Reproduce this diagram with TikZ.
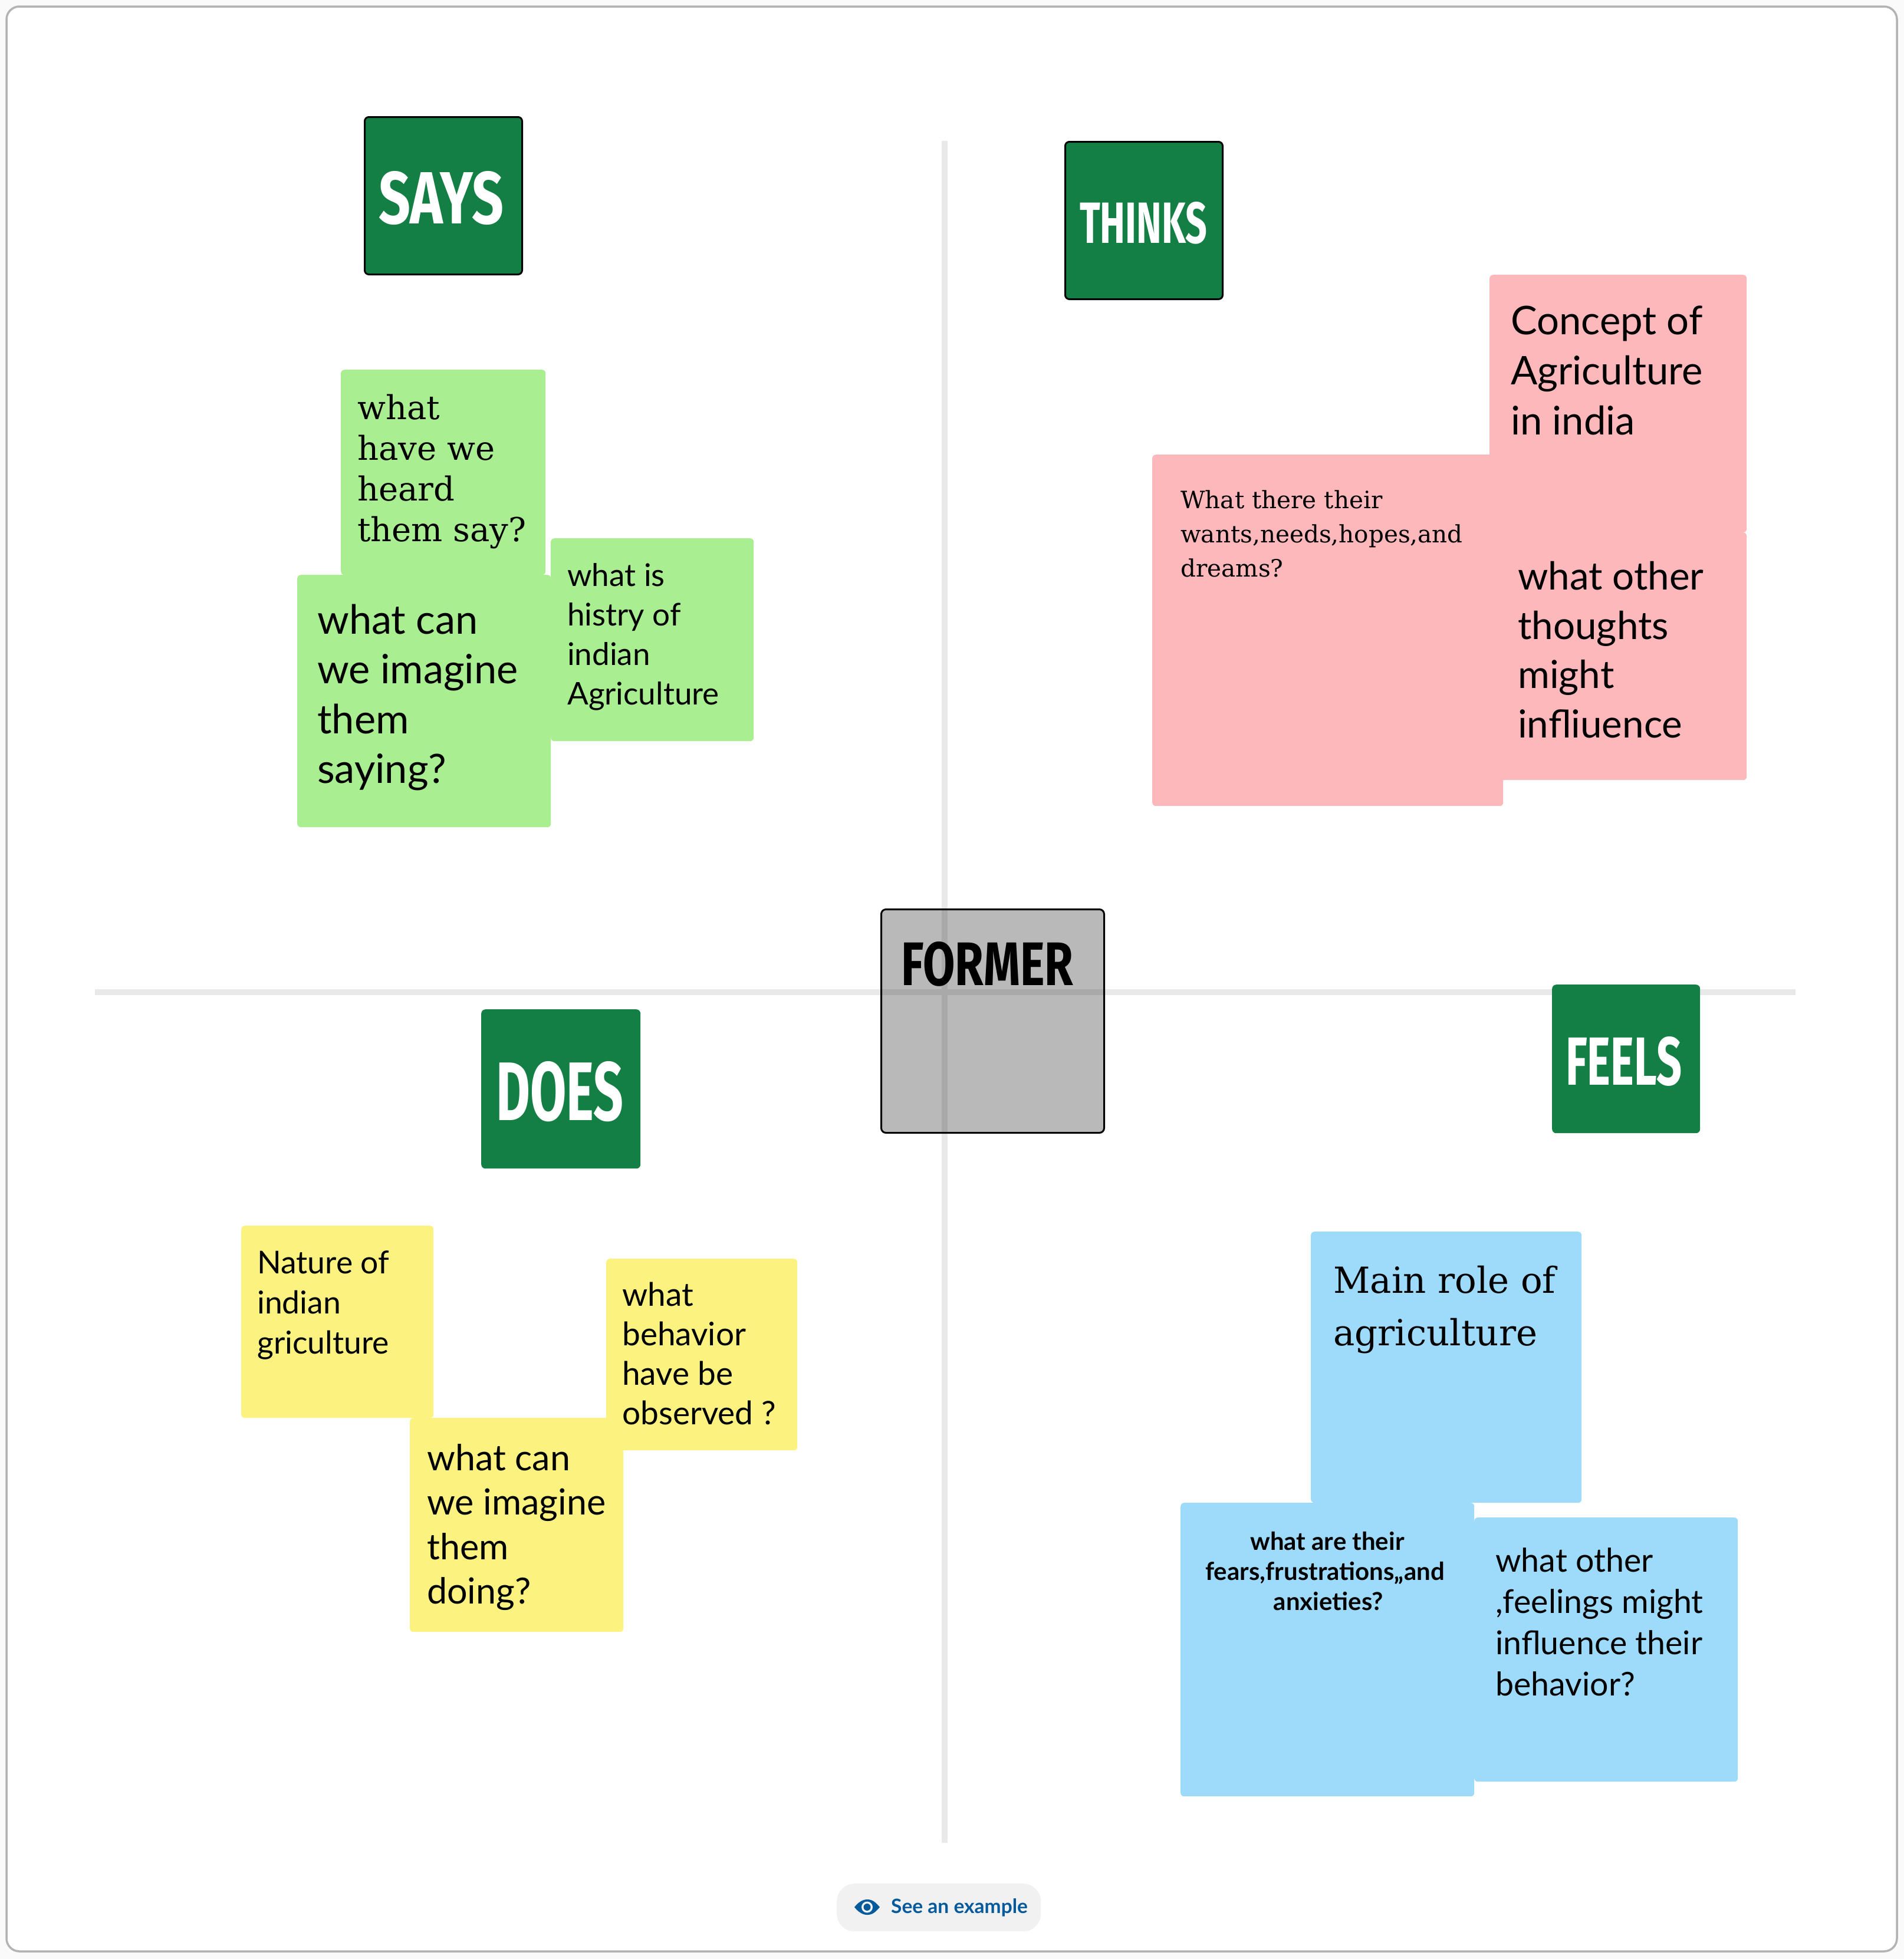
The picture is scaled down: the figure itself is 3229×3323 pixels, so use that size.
\documentclass[tikz,border=0pt]{standalone}
\usepackage{graphicx}
\usepackage{fontspec}
\setmainfont{Lato}
\newfontfamily\slab{DejaVu Serif}
\newfontfamily\hand{Fira Sans}
\definecolor{gstick}{HTML}{A9EE90}
\definecolor{pstick}{HTML}{FDB8BC}
\definecolor{bstick}{HTML}{9EDBFA}
\definecolor{ystick}{HTML}{FCF280}
\definecolor{hgreen}{HTML}{147F45}
\definecolor{axisc}{HTML}{E9E9E9}
\definecolor{framec}{HTML}{B3B3B3}
\definecolor{bgc}{HTML}{FAFAFA}
\definecolor{btn}{HTML}{F1F1F1}
\definecolor{linkc}{HTML}{055A9C}
\tikzset{
  x=1pt,y=-1pt,
  sticky/.style={anchor=north west,inner sep=0pt,rounded corners=6pt,draw=none},
  head/.style={anchor=north west,inner sep=0pt,rounded corners=7pt,fill=hgreen},
  txt/.style={anchor=north west,inner sep=0pt,align=left,text=black},
  axisline/.style={line width=10pt,draw=axisc},
  handtxt/.style={inner sep=0pt,anchor=north west,text=white},
}
\newcommand{\fs}[2]{\fontsize{#1pt}{#2pt}\selectfont}
\newcommand{\stk}[6]{\node[sticky,fill=#6,minimum width=#4pt-#2pt,minimum height=#5pt-#3pt] (#1) at (#2,#3) {};}
\begin{document}
\begin{tikzpicture}
\useasboundingbox (0,0) rectangle (3229,3323);
\fill[bgc] (0,0) rectangle (3229,3323);
\draw[framec,fill=white,line width=3.5pt,rounded corners=22pt] (11,11) rectangle (3217,3310);
% axes
\coordinate (vtop) at (1602,239);
\coordinate (vbot) at (1602,3126);
\coordinate (hleft) at (161,1683);
\coordinate (hright) at (3045,1683);
\draw[axisline] (vtop) -- (vbot);
\draw[axisline] (hleft) -- (hright);
% headers
\node[head,draw=black,line width=3pt,minimum width=267pt,minimum height=267pt] (hsays) at (617,197) {};
\node[head,draw=black,line width=3pt,minimum width=267pt,minimum height=267pt] (hthinks) at (1805,239) {};
\node[head,minimum width=251pt,minimum height=252pt] (hfeels) at (2632,1670) {};
\node[head,minimum width=270pt,minimum height=270pt] (hdoes) at (816,1712) {};
\node[handtxt] (tsays) at (642,290) {\hand\bfseries\resizebox{212pt}{89pt}{SAYS}};
\node[handtxt] (tthinks) at (1831,342) {\hand\bfseries\resizebox{216pt}{70pt}{THINKS}};
\node[handtxt] (tfeels) at (2655,1758) {\hand\bfseries\resizebox{197pt}{82pt}{FEELS}};
\node[handtxt] (tdoes) at (841,1800) {\hand\bfseries\resizebox{216pt}{100pt}{DOES}};
% centre
\node[anchor=north west,inner sep=0pt,rounded corners=8pt,draw=black,line width=3pt,minimum width=378pt,minimum height=379pt,fill=black,fill opacity=.275,draw opacity=1] (former) at (1493,1541) {};
\node[handtxt,text=black] (tformer) at (1528,1597) {\hand\bfseries\resizebox{292pt}{74pt}{FORMER}};
% green
\stk{g1}{578}{627}{925}{975}{gstick}
\stk{g3}{934}{913}{1278}{1257}{gstick}
\stk{g2}{504}{975}{934}{1403}{gstick}
\node[txt,font=\slab\fs{56}{69}] (tg1) at (606,669) {what\\have we\\heard\\them say?};
\node[txt,font=\fs{68.5}{84.3}] (tg2) at (538,1025) {what can\\we imagine\\them\\saying?};
\node[txt,font=\fs{53}{67}] (tg3) at (962,955) {what is\\histry of\\indian\\Agriculture};
% pink
\stk{p1}{2526}{466}{2962}{903}{pstick}
\stk{p3}{2540}{903}{2962}{1323}{pstick}
\stk{p2}{1954}{771}{2549}{1367}{pstick}
\node[txt,font=\fs{67}{85}] (tp1) at (2562,519) {Concept of\\Agriculture\\in india};
\node[txt,font=\slab\fs{40.5}{58}] (tp2) at (2002,832) {What there their\\wants,needs,hopes,and\\dreams?};
\node[txt,font=\fs{65.5}{83.7}] (tp3) at (2574,952) {what other\\thoughts\\might\\infliuence};
% yellow
\stk{y1}{409}{2079}{735}{2405}{ystick}
\stk{y3}{1028}{2135}{1352}{2460}{ystick}
\stk{y2}{695}{2405}{1057}{2768}{ystick}
\node[txt,font=\fs{53.5}{68}] (ty1) at (436,2121) {Nature of\\indian\\griculture};
\node[txt,font=\fs{61}{75.5}] (ty2) at (724,2449) {what can\\we imagine\\them\\doing?};
\node[txt,font=\fs{55}{67}] (ty3) at (1055,2175) {what\\behavior\\have be\\observed ?};
% blue
\stk{b1}{2223}{2089}{2682}{2549}{bstick}
\stk{b3}{2500}{2574}{2947}{3022}{bstick}
\stk{b2}{2002}{2549}{2500}{3047}{bstick}
\node[txt,font=\slab\fs{61}{89}] (tb1) at (2261,2147) {Main role of\\agriculture};
\node[txt,align=center,anchor=north,font=\bfseries\fs{42}{51}] (tb2) at (2247,2598) {\hspace*{8pt}what are their\\fears,frustrations,,and\\\hspace*{12pt}anxieties?};
\node[txt,font=\fs{55.5}{70}] (tb3) at (2536,2625) {what other\\,feelings might\\influence their\\behavior?};
% button
\node[anchor=north west,inner sep=0pt,rounded corners=30pt,fill=btn,minimum width=346pt,minimum height=81pt] (button) at (1419,3195) {};
\fill[linkc] (1449,3235) .. controls (1460,3221) and (1470,3222) .. (1471,3222) .. controls (1480,3222) and (1485,3227) .. (1492,3235) .. controls (1485,3243) and (1480,3248) .. (1471,3248) .. controls (1470,3248) and (1460,3249) .. (1449,3235) -- cycle;
\fill[btn] (1470.5,3235) circle (9.5);
\fill[linkc] (1470.5,3235) circle (6);
\node[anchor=west,inner sep=0pt,text=linkc,font=\bfseries\fs{33.5}{38}] (tbutton) at (1511,3236) {See an example};
\end{tikzpicture}
\end{document}
